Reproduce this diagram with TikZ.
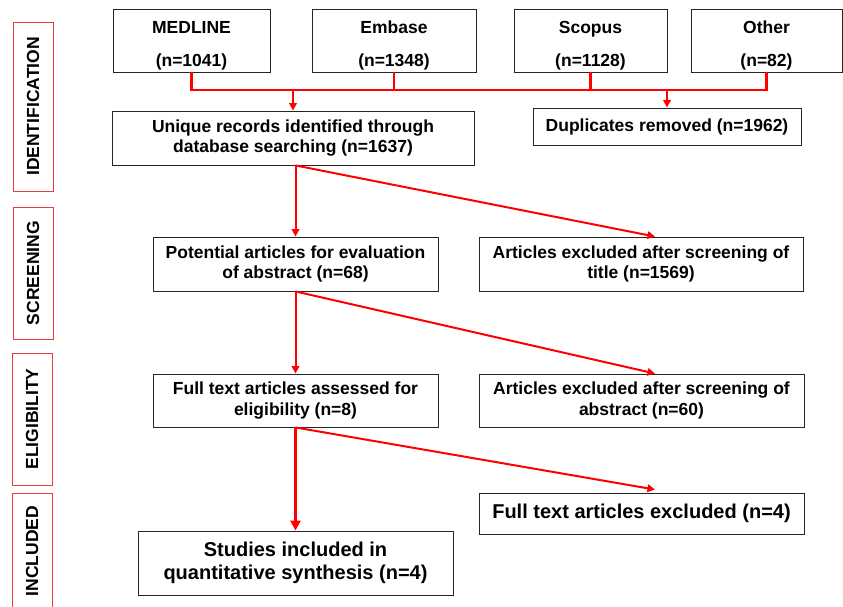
\documentclass[tikz,border=0pt]{standalone}
\usepackage{fontspec}
\setmainfont{Liberation Sans}
\usetikzlibrary{arrows.meta, calc, positioning}
\definecolor{flowred}{RGB}{255,0,0}
\definecolor{sidered}{RGB}{235,60,60}
\newcommand{\srcstrut}{\rule{0pt}{22pt}}
\tikzset{
  box/.style={draw=black!85, line width=0.9pt, align=center, inner sep=2pt,
    font=\fontsize{17.5}{20.5}\selectfont\bfseries},
  bigbox/.style={box, font=\fontsize{20}{23.5}\selectfont\bfseries},
  srcbox/.style={box, font=\fontsize{17.5}{33}\selectfont\bfseries},
  side/.style={draw=sidered, line width=0.9pt, rotate=90, minimum height=40pt,
    inner sep=0pt, font=\fontsize{17.5}{20}\selectfont\bfseries},
  bus/.style={flowred, line width=2.6pt},
  flow/.style={flowred, line width=2pt, -{Triangle[length=7.5pt,width=7.5pt]}},
  thick flow/.style={flowred, line width=3.4pt, -{Triangle[length=10pt,width=10pt]}},
}
\begin{document}
\begin{tikzpicture}[x=1pt,y=-1pt]
        \useasboundingbox (0,0) rectangle (843,607);

        % Phasen am linken Rand
        \node[side, minimum width=169pt] (ident)  at (33,106.5) {IDENTIFICATION};
        \node[side, minimum width=132pt] (screen) at (33,273)   {SCREENING};
        \node[side, minimum width=132pt] (elig)   at (32,419)   {ELIGIBILITY};
        \node[side, minimum width=116pt] (incl)   at (32,551)   {INCLUDED};

        % Datenbanken
        \node[srcbox, minimum width=157pt, minimum height=63pt] (medline) at (191.5,40.5) {\srcstrut MEDLINE\\(n=1041)};
        \node[srcbox, minimum width=164pt, minimum height=63pt] (embase)  at (394,40.5)   {\srcstrut Embase\\(n=1348)};
        \node[srcbox, minimum width=153pt, minimum height=63pt] (scopus)  at (590.5,40.5) {\srcstrut Scopus\\(n=1128)};
        \node[srcbox, minimum width=151pt, minimum height=63pt] (other)   at (766.5,40.5) {\srcstrut Other\\(n=82)};

        % Ablauf
        \node[box, minimum width=362pt, minimum height=54pt] (unique)    at (293,138)   {Unique records identified through\\database searching (n=1637)};
        \node[box, minimum width=268pt, minimum height=37pt] (dupl)      at (667,126.5) {Duplicates removed (n=1962)};
        \node[box, minimum width=285pt, minimum height=54pt] (potential) at (295.5,264) {Potential articles for evaluation\\of abstract (n=68)};
        \node[box, minimum width=324pt, minimum height=54pt] (exctitle)  at (641,264)   {Articles excluded after screening of\\title (n=1569)};
        \node[box, minimum width=285pt, minimum height=53pt] (fulltext)  at (295.5,400.5) {Full text articles assessed for\\eligibility (n=8)};
        \node[box, minimum width=325pt, minimum height=53pt] (excabs)    at (641.5,400.5) {Articles excluded after screening of\\abstract (n=60)};
        \node[bigbox, minimum width=325pt, minimum height=41pt] (excfull) at (641.5,513.5) {Full text articles excluded (n=4)};
        \node[bigbox, minimum width=315pt, minimum height=64pt] (studies) at (295.5,563)  {Studies included in\\quantitative synthesis (n=4)};

        % Sammelleitung unter den Datenbanken
        \coordinate (busline) at (0,90);
        \draw[bus] (medline.south) -- (medline.south |- busline) -- (other.south |- busline) -- (other.south);
        \draw[bus] (embase.south) -- (embase.south |- busline);
        \draw[bus] (scopus.south) -- (scopus.south |- busline);
        \draw[flow] (unique.north |- busline) -- (unique.north);
        \draw[flow] (dupl.north |- busline) -- (dupl.north);

        % Pfeile zwischen den Stufen
        \draw[flow] (unique.south -| potential) -- (potential.north);
        \draw[flow] (unique.south -| potential) -- ($(exctitle.north)+(14,0)$);
        \draw[flow] (potential.south) -- (fulltext.north);
        \draw[flow] (potential.south) -- ($(excabs.north)+(13.5,0)$);
        \draw[thick flow] (fulltext.south) -- (studies.north);
        \draw[flow] (fulltext.south) -- ($(excfull.north)+(13.5,-3)$);
\end{tikzpicture}
\end{document}
